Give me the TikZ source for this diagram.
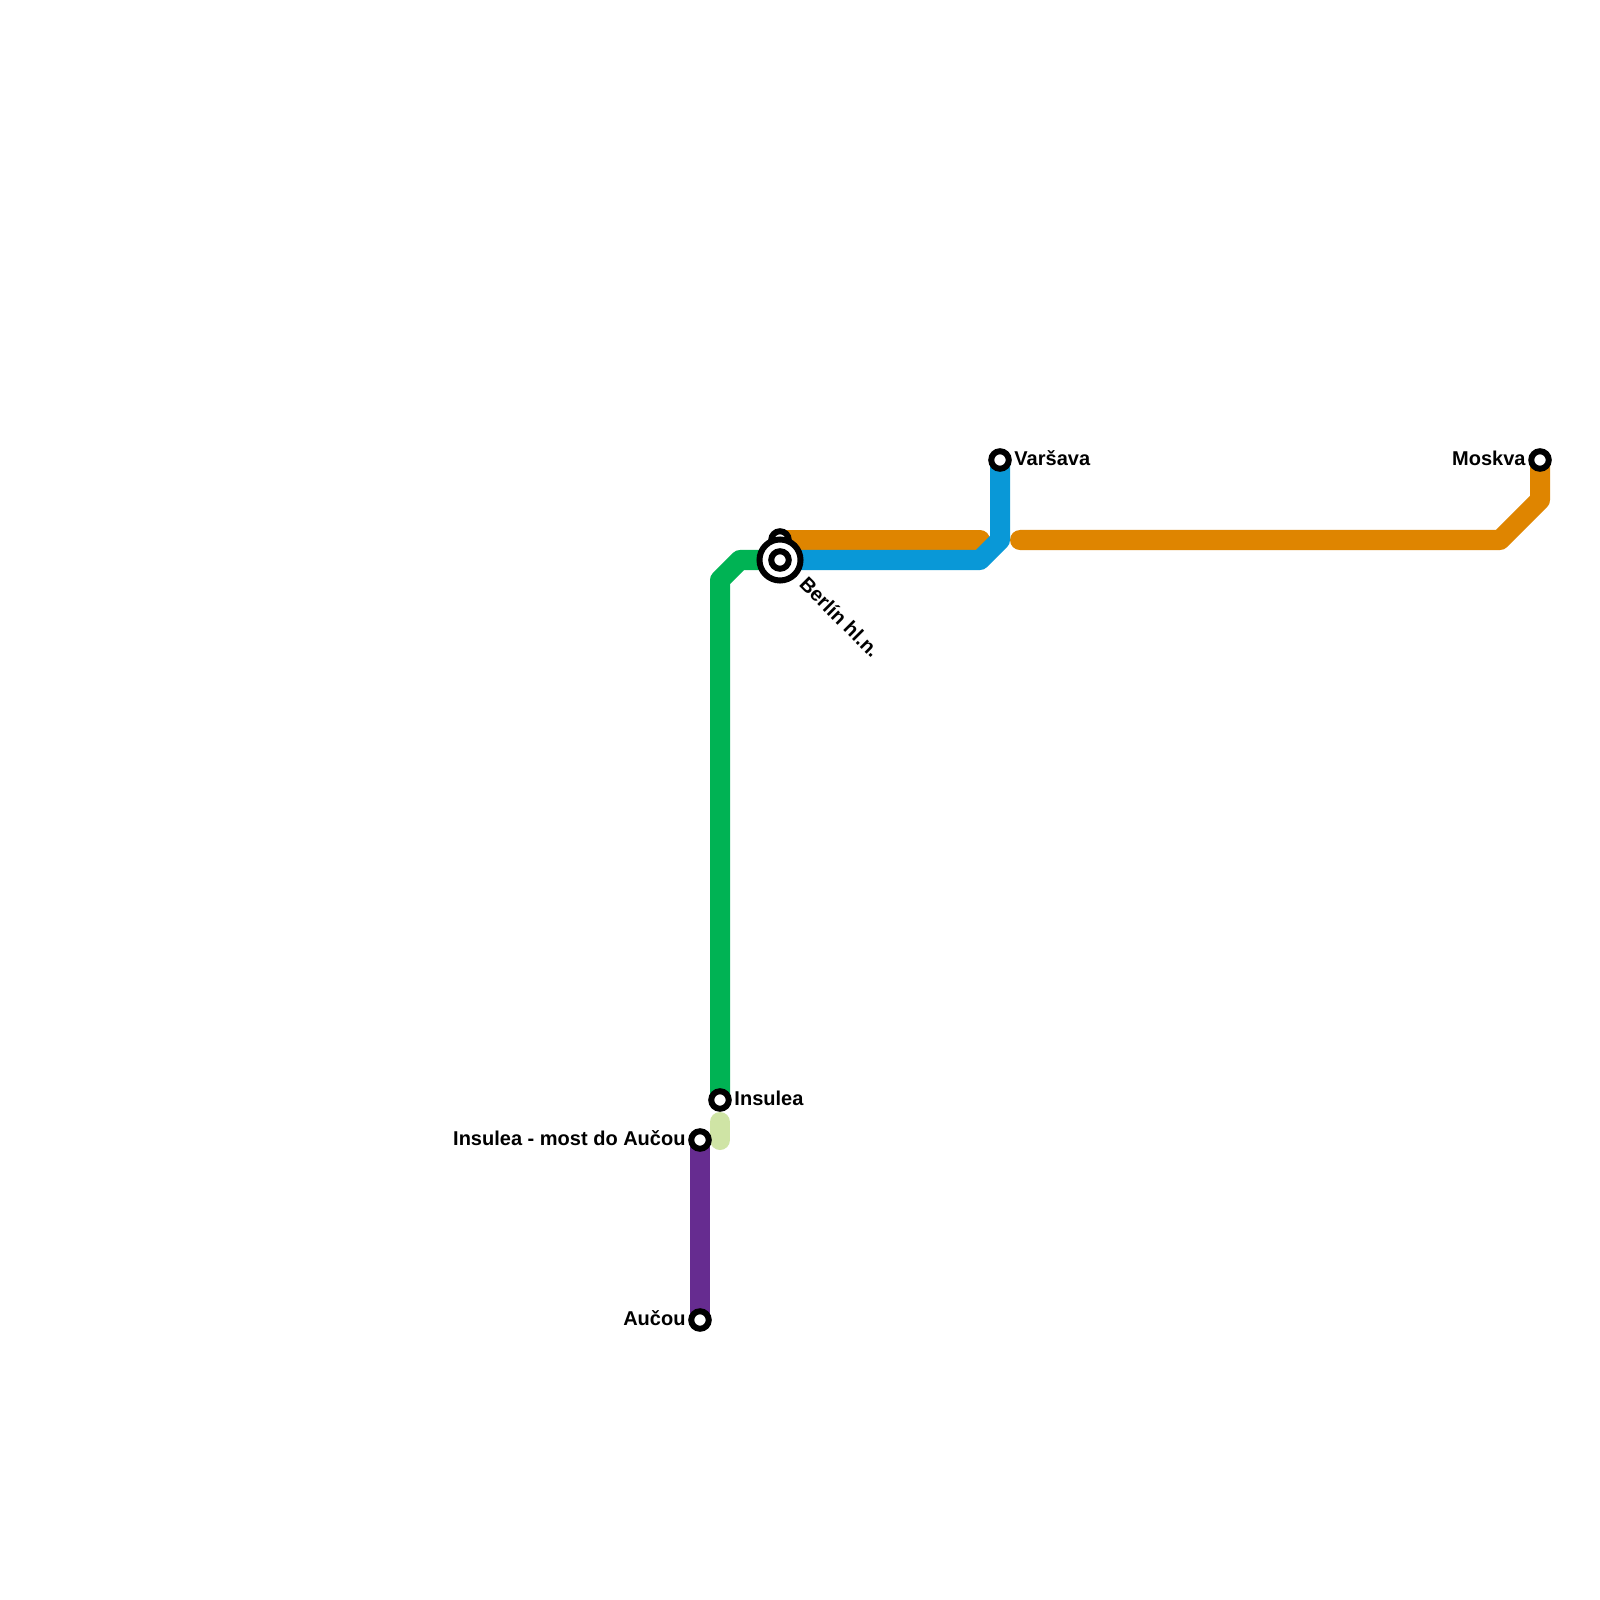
\documentclass[tikz,border=0pt]{standalone}
\usepackage{xcolor}
\usepackage{fontspec}
\setmainfont{Liberation Sans}
\usetikzlibrary{positioning,backgrounds}
\definecolor{lnOrange}{RGB}{223,133,0}
\definecolor{lnBlue}{RGB}{9,152,215}
\definecolor{lnGreen}{RGB}{0,179,84}
\definecolor{lnPale}{RGB}{207,228,165}
\definecolor{lnPurple}{RGB}{102,44,144}
\begin{document}
\begin{tikzpicture}[
  x=0.01cm, y=-0.01cm,
  font=\fontsize{5.69}{7}\selectfont\bfseries,
  st/.style={circle, draw=black, fill=white, line width=0.06cm, inner sep=0pt, outer sep=0pt, minimum size=0.175cm},
  hub/.style={st, minimum size=0.41cm},
  lbl/.style={inner sep=0pt, text=black, yshift=0.02cm},
  ln/.style={line width=0.2cm, line join=round}
]
\useasboundingbox (0,0) rectangle (1600,1600);
% stations
\foreach \n/\x/\y in {upper/780/540, warsaw/1000/460, moscow/1540/460, insulea/720/1100, bridge/700/1140, aucou/700/1320} {
  \node[st] (\n) at (\x,\y) {};
}
\node[hub] (berlinout) at (780,560) {};
\node[st] (berlin) at (780,560) {};
\node[lbl, right=0.05cm of warsaw] (lwarsaw) {Varšava};
\node[lbl, left=0.05cm of moscow] (lmoscow) {Moskva};
\node[lbl, right=0.05cm of insulea] (linsulea) {Insulea};
\node[lbl, left=0.05cm of bridge] (lbridge) {Insulea - most do Aučou};
\node[lbl, left=0.05cm of aucou] (laucou) {Aučou};
\node[lbl, rotate=-45, anchor=west] (lberlin) at (803,582) {Berlín hl.n.};
% lines
\coordinate (orangeend) at (980,540);
\coordinate (orangestart) at (1020,540);
\coordinate (paletop) at (720,1122);
\coordinate (palebot) at (720,1140);
\begin{scope}[on background layer]
\fill[white] (0,0) rectangle (1600,1600);
\draw[ln, lnOrange, line cap=round] (upper.center) -- (orangeend);
\draw[ln, lnOrange, line cap=round] (orangestart) -- (1500,540) -- (1540,500) -- (moscow.center);
\draw[ln, lnBlue] (berlin.center) -- (980,560) -- (1000,540) -- (warsaw.center);
\draw[ln, lnGreen] (berlin.center) -- (740,560) -- (720,580) -- (insulea.center);
\draw[ln, lnPale, line cap=round] (paletop) -- (palebot);
\draw[ln, lnPurple] (bridge.center) -- (aucou.center);
\end{scope}
\end{tikzpicture}
\end{document}
